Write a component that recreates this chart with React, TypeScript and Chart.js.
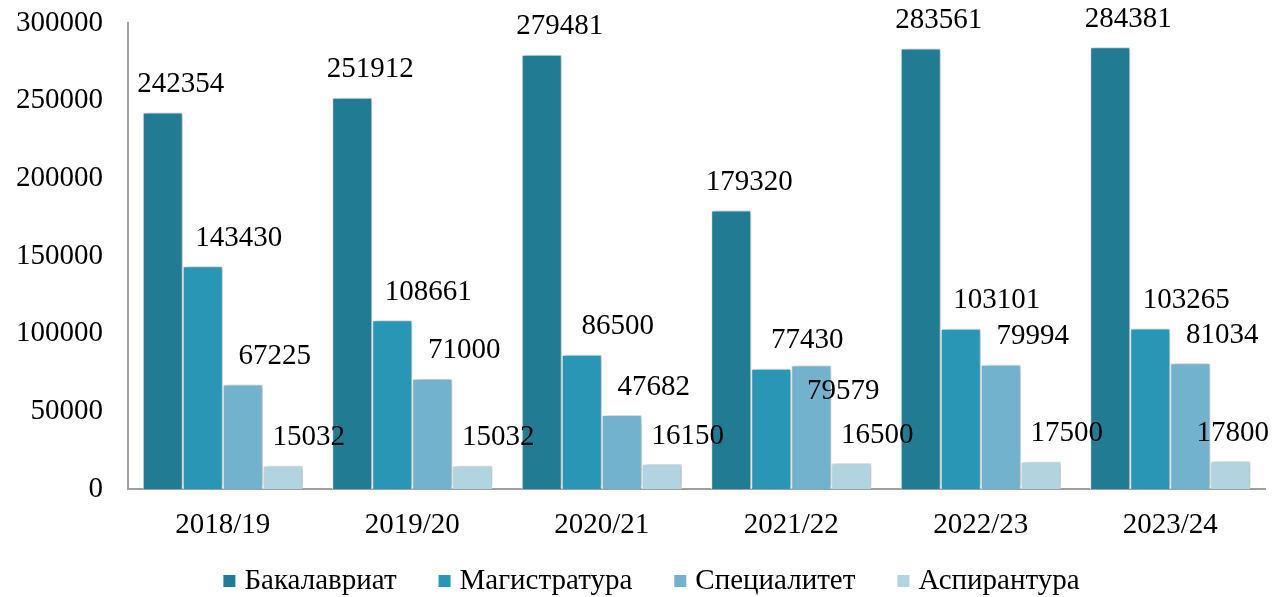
import React, { useEffect, useRef } from "react";
import { Chart, registerables } from "chart.js";

Chart.register(...registerables);

const categories = ["2018/19", "2019/20", "2020/21", "2021/22", "2022/23", "2023/24"];
const bakalavriat = [242354, 251912, 279481, 179320, 283561, 284381];
const magistratura = [143430, 108661, 86500, 77430, 103101, 103265];
const specialitet = [67225, 71000, 47682, 79579, 79994, 81034];
const aspirantura = [15032, 15032, 16150, 16500, 17500, 17800];
const seriesNames = ["Бакалавриат", "Магистратура", "Специалитет", "Аспирантура"];
const yTicks = [0, 50000, 100000, 150000, 200000, 250000, 300000];

const colors = ["#217C93", "#2896B4", "#72B2CC", "#B2D3E0"];
const labelDx = [18, 36, 32, 26];
const labelDy = -28;
const FONT = "'Liberation Serif', 'Times New Roman', serif";
const FS = 29;

export default function App() {
  const ref = useRef<HTMLCanvasElement | null>(null);
  useEffect(() => {
    document.body.style.margin = "0";
    const canvas = ref.current!;
    const shadowPlugin = {
      id: "shadow",
      beforeDatasetDraw(chart: any) {
        const ctx = chart.ctx;
        ctx.save();
        ctx.shadowColor = "rgba(0,0,0,0.35)";
        ctx.shadowBlur = 6;
        ctx.shadowOffsetX = 2;
        ctx.shadowOffsetY = 0;
      },
      afterDatasetDraw(chart: any) {
        chart.ctx.restore();
      },
    };
    const labelPlugin = {
      id: "labels",
      afterDraw(chart: any) {
        const ctx = chart.ctx;
        ctx.save();
        ctx.font = `${FS}px ${FONT}`;
        ctx.fillStyle = "#000";
        ctx.textAlign = "center";
        ctx.textBaseline = "middle";
        const n = chart.data.labels.length;
        for (let i = 0; i < n; i++) {
          let prev: any = null;
          chart.data.datasets.forEach((ds: any, di: number) => {
            const bar: any = chart.getDatasetMeta(di).data[i];
            const text = String(ds.data[i]);
            const w = ctx.measureText(text).width;
            let cx = bar.x + labelDx[di];
            let cy = bar.y + labelDy;
            if (cx + w / 2 > chart.width - 4) cx = chart.width - 4 - w / 2;
            if (cy < FS / 2 + 4) cy = FS / 2 + 4;
            if (prev && Math.abs(prev.cy - cy) < FS * 0.8 && cx - w / 2 < prev.cx + prev.w / 2) {
              cy = bar.y + 26;
            }
            ctx.fillText(text, cx, cy);
            prev = { cx, cy, w };
          });
        }
        ctx.restore();
      },
    };
    const legendPlugin = {
      id: "customLegend",
      afterDraw(chart: any) {
        const ctx = chart.ctx;
        ctx.save();
        ctx.font = `${FS}px ${FONT}`;
        ctx.textBaseline = "middle";
        ctx.textAlign = "left";
        const box = 12;
        const gapBox = 9;
        const gapItem = 42;
        const widths = seriesNames.map((s) => ctx.measureText(s).width);
        const total =
          widths.reduce((a, b) => a + b, 0) + seriesNames.length * (box + gapBox) + gapItem * (seriesNames.length - 1);
        let x = chart.width / 2 + 15 - total / 2;
        const y = 581;
        seriesNames.forEach((s, i) => {
          ctx.fillStyle = colors[i];
          ctx.fillRect(x, y - box / 2, box, box);
          x += box + gapBox;
          ctx.fillStyle = "#000";
          ctx.fillText(s, x, y);
          x += widths[i] + gapItem;
        });
        ctx.restore();
      },
    };
    const seriesData = [bakalavriat, magistratura, specialitet, aspirantura];
    const chart = new Chart(canvas, {
      type: "bar",
      data: {
        labels: categories,
        datasets: seriesData.map((d, i) => ({
          label: seriesNames[i],
          data: d,
          backgroundColor: colors[i],
          borderColor: "#ffffff",
          borderWidth: 1,
          categoryPercentage: 0.845,
          barPercentage: 1.0,
        })),
      },
      options: {
        responsive: false,
        animation: false,
        layout: { padding: { top: 23, right: 8, left: 0, bottom: 38 } },
        plugins: {
          tooltip: { enabled: false },
          legend: { display: false },
        },
        scales: {
          x: {
            grid: { display: false },
            border: { display: true, color: "#a0a0a0", width: 2 },
            ticks: { font: { family: FONT, size: FS }, color: "#000", padding: 11 },
            afterFit(scale: any) {
              scale.height = 70;
              scale.paddingLeft = 0;
              scale.paddingRight = 0;
            },
          },
          y: {
            min: 0,
            max: 300000,
            afterBuildTicks(scale: any) {
              scale.ticks = yTicks.map((v) => ({ value: v }));
            },
            grid: { display: false },
            border: { display: true, color: "#a0a0a0", width: 2 },
            ticks: {
              font: { family: FONT, size: FS },
              color: "#000",
              padding: 17,
              callback: (v: any) => String(v),
            },
            afterFit(scale: any) {
              scale.width = 128;
              scale.paddingTop = 0;
              scale.paddingBottom = 0;
            },
          },
        },
      },
      plugins: [shadowPlugin, labelPlugin, legendPlugin],
    });
    return () => chart.destroy();
  }, []);
  return (
    <div style={{ width: 1273, height: 597 }}>
      <canvas ref={ref} width={1273} height={597} />
    </div>
  );
}
